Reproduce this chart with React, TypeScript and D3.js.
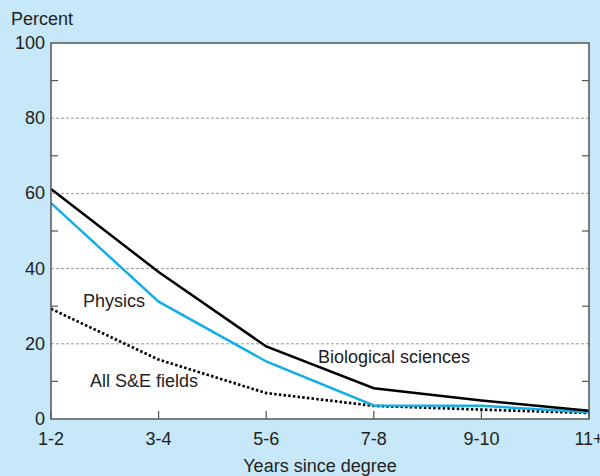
import React, { useRef, useEffect } from "react";
import * as d3 from "d3";

const categories = ["1-2", "3-4", "5-6", "7-8", "9-10", "11+"];
const biological = [61.2, 39.1, 19.3, 8.2, 4.9, 2.2];
const physics = [57.4, 31.2, 15.3, 3.6, 3.5, 1.8];
const allFields = [29.3, 15.8, 6.9, 3.5, 2.5, 1.6];
const yTicks = [0, 20, 40, 60, 80, 100];
const minorTicks = [10, 30, 50, 70, 90];

const W = 600;
const H = 476;
const margin = { top: 43, right: 11, bottom: 57, left: 51 };
const font = "'Liberation Sans', Arial, Helvetica, sans-serif";

const App = () => {
  const ref = useRef<SVGSVGElement>(null);

  useEffect(() => {
    document.body.style.margin = "0";
    document.body.style.overflow = "hidden";
    const svg = d3.select(ref.current);
    svg.selectAll("*").remove();

    const width = W - margin.left - margin.right;
    const height = H - margin.top - margin.bottom;

    svg.append("rect").attr("width", W).attr("height", H).attr("fill", "#c6e8f8");

    const x = d3.scalePoint<string>().domain(categories).range([margin.left, margin.left + width]);
    const y = d3.scaleLinear().domain([0, 100]).range([margin.top + height, margin.top]);

    svg.append("rect")
      .attr("x", margin.left).attr("y", margin.top)
      .attr("width", width).attr("height", height)
      .attr("fill", "#fff");

    // dashed grid
    svg.selectAll(".grid")
      .data(yTicks.filter(d => d > 0 && d < 100))
      .enter().append("line")
      .attr("x1", margin.left).attr("x2", margin.left + width)
      .attr("y1", d => y(d)).attr("y2", d => y(d))
      .attr("stroke", "#999").attr("stroke-width", 1)
      .attr("stroke-dasharray", "3,2");

    // minor ticks, both sides
    minorTicks.forEach(t => {
      svg.append("line")
        .attr("x1", margin.left).attr("x2", margin.left + 7)
        .attr("y1", y(t)).attr("y2", y(t))
        .attr("stroke", "#555").attr("stroke-width", 1.2);
      svg.append("line")
        .attr("x1", margin.left + width - 7).attr("x2", margin.left + width)
        .attr("y1", y(t)).attr("y2", y(t))
        .attr("stroke", "#555").attr("stroke-width", 1.2);
    });

    // x ticks inside
    categories.forEach(c => {
      svg.append("line")
        .attr("x1", x(c)!).attr("x2", x(c)!)
        .attr("y1", margin.top + height).attr("y2", margin.top + height - 8)
        .attr("stroke", "#555").attr("stroke-width", 1.2);
    });

    const line = d3.line<number>()
      .x((d, i) => x(categories[i])!)
      .y(d => y(d));

    svg.append("path").datum(allFields)
      .attr("d", line).attr("fill", "none")
      .attr("stroke", "#000").attr("stroke-width", 2.7)
      .attr("stroke-dasharray", "2.5,2.2");

    svg.append("path").datum(physics)
      .attr("d", line).attr("fill", "none")
      .attr("stroke", "#12aee8").attr("stroke-width", 2.5);

    svg.append("path").datum(biological)
      .attr("d", line).attr("fill", "none")
      .attr("stroke", "#000").attr("stroke-width", 2.5);

    // frame
    svg.append("rect")
      .attr("x", margin.left).attr("y", margin.top)
      .attr("width", width).attr("height", height)
      .attr("fill", "none").attr("stroke", "#555").attr("stroke-width", 1.5);

    const txt = (s: string, tx: number, ty: number, anchor = "start") =>
      svg.append("text")
        .attr("x", tx).attr("y", ty)
        .attr("text-anchor", anchor)
        .attr("font-family", font)
        .attr("font-size", 18)
        .attr("fill", "#222")
        .text(s);

    yTicks.forEach(t => txt(String(t), 45, y(t) + 6, "end"));
    categories.forEach(c => txt(c, x(c)!, 445, "middle"));

    txt("Percent", 11, 25);
    txt("Years since degree", margin.left + width / 2, 472, "middle");
    txt("Physics", 83, 307);
    txt("All S&E fields", 90, 387);
    txt("Biological sciences", 318, 363);
  }, []);

  return <svg ref={ref} width={W} height={H} style={{ display: "block", position: "fixed", left: 0, top: 0 }} />;
};

export default App;
